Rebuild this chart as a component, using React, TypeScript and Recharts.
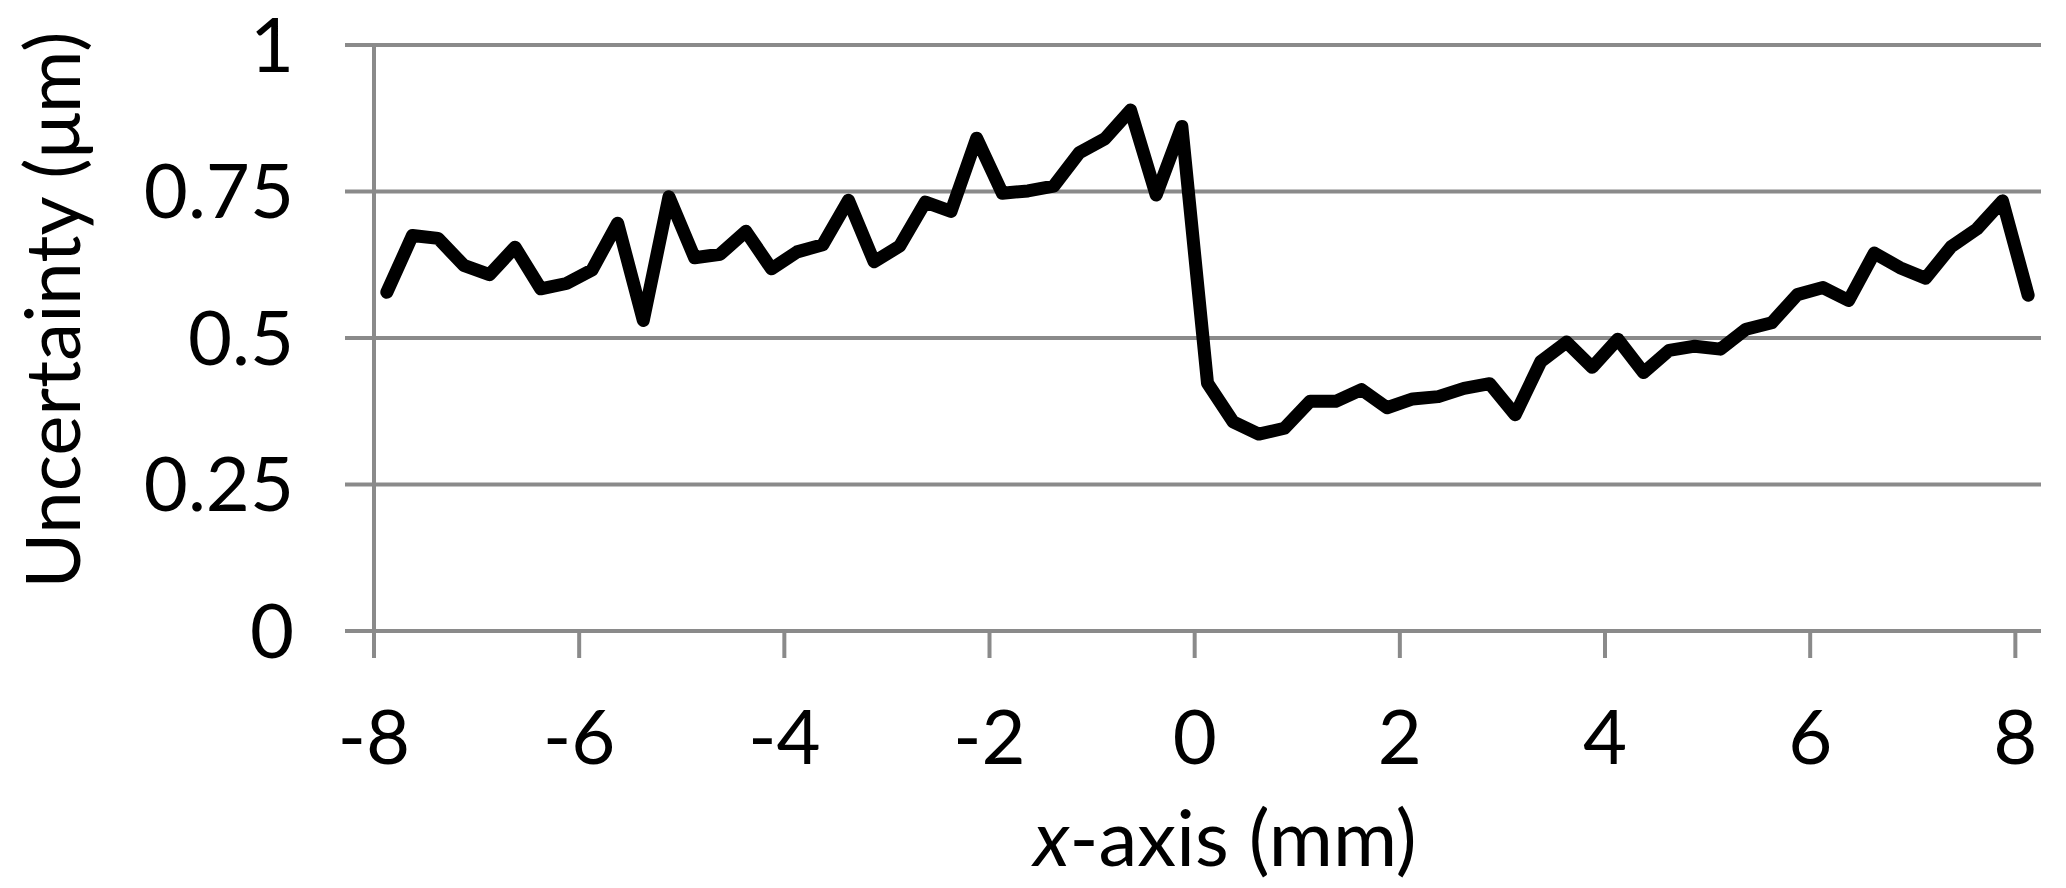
import React from 'react';
import { LineChart, Line, XAxis, YAxis, CartesianGrid, Label } from 'recharts';

// positions along the x-axis (mm)
const POSITIONS = [
    -7.875, -7.625, -7.375, -7.125, -6.875, -6.625, -6.375, -6.125,
    -5.875, -5.625, -5.375, -5.125, -4.875, -4.625, -4.375, -4.125,
    -3.875, -3.625, -3.375, -3.125, -2.875, -2.625, -2.375, -2.125,
    -1.875, -1.625, -1.375, -1.125, -0.875, -0.625, -0.375, -0.125,
    0.125, 0.375, 0.625, 0.875, 1.125, 1.375, 1.625, 1.875,
    2.125, 2.375, 2.625, 2.875, 3.125, 3.375, 3.625, 3.875,
    4.125, 4.375, 4.625, 4.875, 5.125, 5.375, 5.625, 5.875,
    6.125, 6.375, 6.625, 6.875, 7.125, 7.375, 7.625, 7.875,
    8.125,
];

// uncertainty (um)
const UNCERTAINTY = [
    0.578, 0.675, 0.670, 0.624, 0.608, 0.655, 0.584, 0.593,
    0.616, 0.696, 0.530, 0.741, 0.637, 0.643, 0.682, 0.618,
    0.647, 0.659, 0.735, 0.630, 0.657, 0.732, 0.716, 0.841,
    0.747, 0.751, 0.759, 0.816, 0.840, 0.889, 0.744, 0.861,
    0.423, 0.357, 0.336, 0.346, 0.392, 0.392, 0.412, 0.381,
    0.396, 0.400, 0.414, 0.422, 0.369, 0.460, 0.493, 0.450,
    0.498, 0.441, 0.479, 0.486, 0.481, 0.515, 0.526, 0.574,
    0.586, 0.564, 0.645, 0.620, 0.602, 0.656, 0.686, 0.734,
    0.573,
];

const X_TICKS = [-8, -6, -4, -2, 0, 2, 4, 6, 8];
const Y_TICKS = [0, 0.25, 0.5, 0.75, 1];

const GREY = '#8a8a8a';
const FONT = 'Lato, "Open Sans", sans-serif';

const data = POSITIONS.map((x, i) => ({ x, u: UNCERTAINTY[i] }));

const App: React.FC = () => {
    return (
        <div style={{ position: 'absolute', left: 0, top: 0, width: 2066, height: 888, background: '#fff' }}>
            <LineChart width={2066} height={888} data={data} margin={{ top: 45, right: 25, bottom: 57, left: 0 }}>
                <CartesianGrid horizontal vertical={false} stroke={GREY} strokeWidth={4} />
                <XAxis
                    dataKey="x"
                    type="number"
                    domain={[-8, 8.25]}
                    ticks={X_TICKS}
                    interval={0}
                    height={200}
                    stroke={GREY}
                    strokeWidth={4}
                    tickSize={27}
                    tickMargin={52}
                    tick={{ fill: '#000', fontSize: 76, fontFamily: FONT }}
                >
                    <Label
                        content={() => (
                            <text x={1225} y={866} textAnchor="middle" fontSize={78} fontFamily={FONT} fill="#000">
                                <tspan fontStyle="italic">x</tspan>-axis (mm)
                            </text>
                        )}
                    />
                </XAxis>
                <YAxis
                    type="number"
                    domain={[0, 1]}
                    ticks={Y_TICKS}
                    interval={0}
                    width={374}
                    stroke={GREY}
                    strokeWidth={4}
                    tickSize={29}
                    tickMargin={51}
                    tick={{ fill: '#000', fontSize: 76, fontFamily: FONT }}
                >
                    <Label
                        content={() => (
                            <text
                                x={80}
                                y={310}
                                transform="rotate(-90 80 310)"
                                textAnchor="middle"
                                fontSize={76}
                                fontFamily={FONT}
                                fill="#000"
                            >
                                Uncertainty (μm)
                            </text>
                        )}
                    />
                </YAxis>
                <Line
                    type="linear"
                    dataKey="u"
                    stroke="#000"
                    strokeWidth={13}
                    strokeLinejoin="round"
                    strokeLinecap="round"
                    dot={false}
                    activeDot={false}
                    isAnimationActive={false}
                />
            </LineChart>
        </div>
    );
};

export default App;
